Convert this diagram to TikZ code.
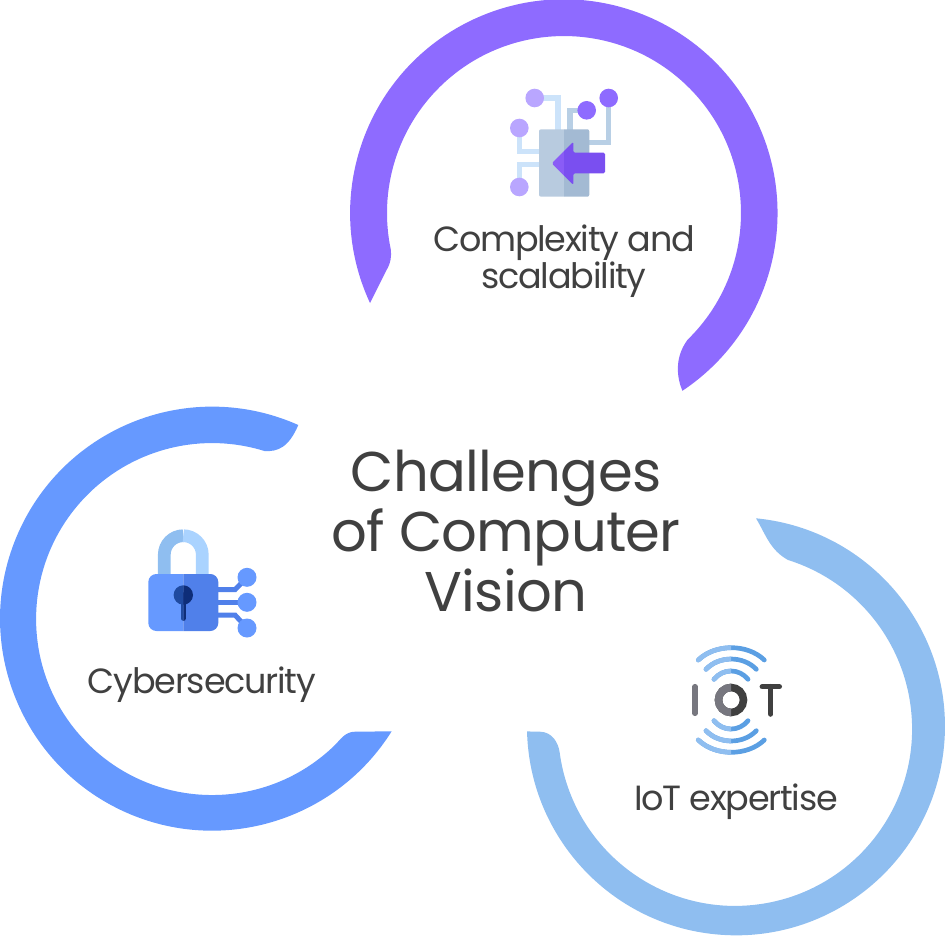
\documentclass[tikz,border=0pt]{standalone}
\usepackage{fontspec}
\setmainfont{Poppins}
\newfontfamily\labelFont[LetterSpace=-3.5]{Poppins}
\newfontfamily\titleFont[LetterSpace=-1.2]{Poppins}
\definecolor{ringPurple}{HTML}{8E6BFF}
\definecolor{ringBlue}{HTML}{6699FF}
\definecolor{ringSky}{HTML}{8FBEF0}
\definecolor{textGray}{HTML}{404040}
\definecolor{traceLight}{HTML}{CCE3FA}
\definecolor{traceDark}{HTML}{B8CFE5}
\definecolor{docLeft}{HTML}{B8CBDF}
\definecolor{docRight}{HTML}{A3BAD3}
\definecolor{arrowLeft}{HTML}{8A5CF6}
\definecolor{arrowRight}{HTML}{7A4FF0}
\definecolor{nodeLight}{HTML}{B9A6FF}
\definecolor{lockDark}{HTML}{5080EA}
\definecolor{shackleLight}{HTML}{AAD3FF}
\definecolor{keyLeft}{HTML}{1F4AA0}
\definecolor{keyRight}{HTML}{0E2D78}
\definecolor{waveDark}{HTML}{5B9FE3}
\definecolor{iotGray}{HTML}{77777F}
\newcommand{\waveCurves}{
    \foreach \xa/\xb/\ya/\yb/\dx in {698.3/764.3/660/643.6/17,706/756.3/669.3/655.6/13,714/748/679.3/668.2/9} {
        \draw[wave] (\xa,\ya) .. controls (\xa+\dx,\yb) and (\xb-\dx,\yb) .. (\xb,\ya);
        \draw[wave] (\xa,1400-\ya) .. controls (\xa+\dx,1400-\yb) and (\xb-\dx,1400-\yb) .. (\xb,1400-\ya);
    }
}
\newcommand{\docShape}{
    \fill[rounded corners=2pt] (539,129.3) rectangle (589.3,196.7);
}
\newcommand{\arrowShape}{
    \fill[rounded corners=1.5pt] (551.7,163.3) -- (573.3,141.7) -- (573.3,152.7)
        -- (605,152.7) -- (605,173.3) -- (573.3,173.3) -- (573.3,185) -- cycle;
}
\newcommand{\lockBody}{
    \fill[rounded corners=8pt] (148.3,574) rectangle (218.3,631);
}
\newcommand{\keyHole}{
    \fill (183.3,595) circle[radius=9.7];
    \draw[line width=5.3pt,line cap=round] (183.3,595) -- (183.3,618.3);
}
\begin{document}
\begin{tikzpicture}[
        x=1pt,
        y=-1pt,
        labelText/.style={
            font=\labelFont\fontsize{35}{35.5}\selectfont,
            text=textGray,
            align=center,
            inner sep=0pt
        },
        titleText/.style={
            font=\titleFont\fontsize{56}{60}\selectfont,
            text=textGray,
            align=center,
            inner sep=0pt
        },
        lightTrace/.style={
            draw=traceLight,
            line width=5.3pt
        },
        darkTrace/.style={
            draw=traceDark,
            line width=5.3pt
        },
        lockTrace/.style={
            draw=lockDark,
            line width=5pt
        },
        wave/.style={
            line width=4.7pt,
            line cap=round
        },
        iotBar/.style={
            line width=5.5pt,
            line cap=round
        }
    ]

        \useasboundingbox (0,0) rectangle (945,936);

        \fill[ringPurple] (370,303) arc[start angle=155.1,end angle=416.3,radius=213.7]
            .. controls (677,378) and (674,358) .. (687.6,339.7)
            arc[start angle=405.7,end angle=168,radius=177]
            .. controls (391.5,256) and (391,263) .. (386,271) -- cycle;

        \fill[ringBlue] (298.3,425) arc[start angle=-66,end angle=-327.9,radius=212]
            -- (355,731.7) .. controls (345,731.7) and (340,740) .. (335,745)
            arc[start angle=45.7,end angle=287.3,radius=176]
            .. controls (278,452) and (289,447) .. cycle;

        \fill[ringSky] (756,518.3) arc[start angle=-84.5,end angle=178.6,radius=209]
            -- (540,731.7) .. controls (552,732) and (558,742) .. (559.6,752)
            arc[start angle=172.5,end angle=-72.6,radius=177]
            .. controls (770,550) and (766,535) .. cycle;

        \draw[lightTrace] (534.7,98) -- (558,98) -- (558,130);
        \draw[lightTrace] (519.3,128) -- (519.3,151.7) -- (540,151.7);
        \draw[lightTrace] (519.3,187) -- (519.3,164.3) -- (540,164.3);
        \draw[darkTrace] (586.7,110.3) -- (570,110.3) -- (570,130);
        \draw[darkTrace] (608.7,98) -- (608.7,142.7) -- (588,142.7);
        \begin{scope}
            \clip (530,120) rectangle (564,200);
            \begin{scope}[fill=docLeft]
                \docShape
            \end{scope}
            \begin{scope}[fill=arrowLeft]
                \arrowShape
            \end{scope}
        \end{scope}
        \begin{scope}
            \clip (564,120) rectangle (610,200);
            \begin{scope}[fill=docRight]
                \docShape
            \end{scope}
            \begin{scope}[fill=arrowRight]
                \arrowShape
            \end{scope}
        \end{scope}
        \foreach \x/\y in {534.7/98,519.3/128,519.3/187} {
            \fill[nodeLight] (\x,\y) circle[radius=9.3];
        }
        \foreach \x/\y in {586.7/110.3,608.7/98} {
            \fill[ringPurple] (\x,\y) circle[radius=9.3];
        }

        \draw[line width=12.7pt,draw=ringSky] (164.3,574) -- (164.3,554.7)
            arc[start angle=180,end angle=270,radius=19];
        \draw[line width=12.7pt,draw=shackleLight] (183.3,535.7)
            arc[start angle=270,end angle=360,radius=19] -- (202.3,574);
        \draw[lockTrace] (218,589.7) -- (235,589.7) -- (247,577.3);
        \draw[lockTrace] (218,602.3) -- (247,602.3);
        \draw[lockTrace] (218,615) -- (235,615) -- (247,628);
        \foreach \y in {577.3,602.3,628} {
            \fill[ringBlue] (247,\y) circle[radius=9.5];
        }
        \begin{scope}
            \clip (140,570) rectangle (183.3,640);
            \begin{scope}[fill=ringBlue]
                \lockBody
            \end{scope}
            \begin{scope}[fill=keyLeft,draw=keyLeft]
                \keyHole
            \end{scope}
        \end{scope}
        \begin{scope}
            \clip (183.3,570) rectangle (225,640);
            \begin{scope}[fill=lockDark]
                \lockBody
            \end{scope}
            \begin{scope}[fill=keyRight,draw=keyRight]
                \keyHole
            \end{scope}
        \end{scope}

        \begin{scope}[draw=waveDark]
            \waveCurves
        \end{scope}
        \begin{scope}[draw=ringSky]
            \clip (680,640) rectangle (731,760);
            \waveCurves
        \end{scope}
        \draw[iotBar,draw=iotGray] (695,686.7) -- (695,713.3);
        \draw[line width=7.6pt,draw=textGray] (731,700) circle[radius=12.5];
        \begin{scope}
            \clip (710,680) rectangle (731,720);
            \draw[line width=7.6pt,draw=iotGray] (731,700) circle[radius=12.5];
        \end{scope}
        \draw[iotBar,draw=textGray] (762.3,686.7) -- (779.3,686.7);
        \draw[iotBar,draw=textGray] (770.7,686.7) -- (770.7,714);

        \node[titleText] (titleNode) at (506,531) {Challenges\\of Computer\\Vision};
        \node[labelText] (complexityNode) at (564,261.5) {Complexity and\\scalability};
        \node[labelText] (securityNode) at (202,685) {Cybersecurity};
        \node[labelText] (iotNode) at (736,802) {IoT expertise};
    \end{tikzpicture}
\end{document}
